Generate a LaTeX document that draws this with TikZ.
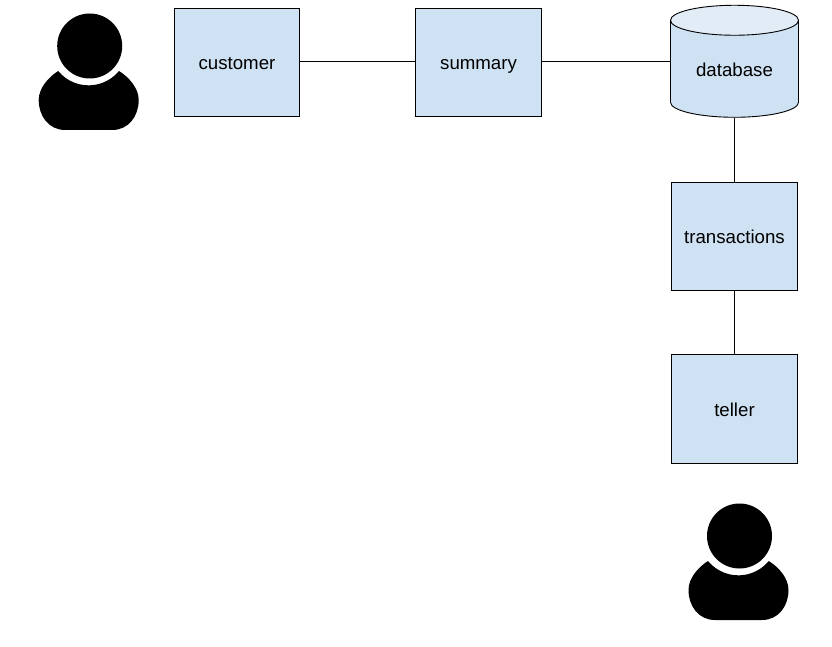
\documentclass[tikz,border=0pt]{standalone}
\usepackage{fontspec}
\setmainfont{Liberation Sans}
\usepackage{tikz}
\usetikzlibrary{positioning,shapes.geometric}
\definecolor{boxfill}{HTML}{CFE2F3}
\definecolor{topfill}{HTML}{E2ECF7}

\begin{document}
\begin{tikzpicture}[
  x=1pt,y=1pt,
  box/.style={draw,fill=boxfill,align=center,line width=0.9pt,inner sep=0pt,
              text height=19.5pt,text depth=4pt,
              minimum width=126pt,minimum height=108.5pt,font=\fontsize{18.67pt}{22pt}\selectfont},
  store/.style={draw,cylinder,shape border rotate=90,aspect=0.39,line width=0.9pt,inner sep=0pt,
                cylinder uses custom fill,cylinder body fill=boxfill,cylinder end fill=topfill,
                text height=15pt,text depth=0pt,
                minimum width=128pt,minimum height=112pt,font=\fontsize{18.67pt}{22pt}\selectfont},
  conn/.style={line width=0.9pt},
  person/.pic={
    \fill (0,0) circle (32.5);
    \fill[shift={(-1,0)}] (-30.5,-25) arc (219.4:320.6:39.3)
      .. controls (40,-31) and (50,-42) .. (50,-54)
      .. controls (50,-70) and (40,-84) .. (23.6,-84)
      -- (-23.6,-84)
      .. controls (-40,-84) and (-50,-70) .. (-50,-54)
      .. controls (-50,-42) and (-40,-31) .. cycle;
  }
]
\useasboundingbox (0,0) rectangle (832,646);
\node[box,minimum width=125.5pt] (customer) at (237,583.75) {customer};
\node[box,right=114.9pt of customer] (summary) {summary};
\node[store] (database) at (734.5,584) [yshift=-7pt] {database};
\node[box] (transactions) at (734.5,409.75) {transactions};
\node[box,below=63.1pt of transactions] (teller) {teller};
% the two users
\pic at (89.7,600) {person};
\pic at (739.5,110) {person};
% links
\draw[conn] (customer.east|-0,585) -- (summary.west|-0,585);
\draw[conn] (summary.east|-0,585) -- (database.west|-0,585);
\draw[conn] (database.south) -- (transactions.north);
\draw[conn] (transactions) -- (teller);
\end{tikzpicture}
\end{document}
